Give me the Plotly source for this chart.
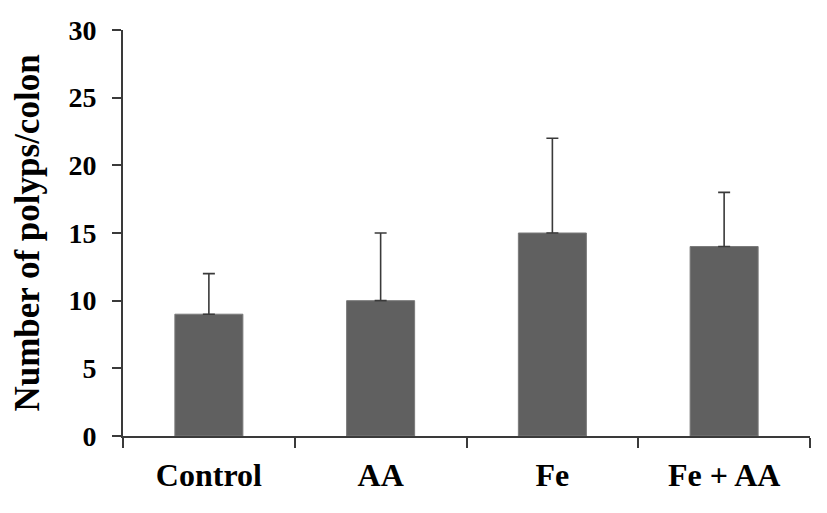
import plotly.graph_objects as go

categories = ["Control", "AA", "Fe", "Fe + AA"]
means = [9, 10, 15, 14]
errors_up = [3, 5, 7, 4]
y_ticks = [0, 5, 10, 15, 20, 25, 30]

fig = go.Figure()
fig.add_trace(go.Bar(
    x=categories, y=means,
    marker=dict(color="#606060", line=dict(color="#7a7a7a", width=1)),
    error_y=dict(type="data", symmetric=False, array=errors_up,
                 arrayminus=[0] * len(errors_up),
                 color="#3a3a3a", thickness=1.6, width=6),
))

font_family = "Liberation Serif"
# page has an 8px default body margin, so the figure is sized/offset to compensate
fig.update_layout(
    width=819, height=505,
    margin=dict(l=115, r=17, t=22, b=77),
    paper_bgcolor="white", plot_bgcolor="white",
    bargap=0.604, showlegend=False,
    font=dict(family=font_family, color="black"),
)
fig.update_xaxes(
    type="category", tickson="boundaries", automargin=False,
    showline=True, linecolor="#3a3a3a", linewidth=1.6,
    ticks="outside", ticklen=10, tickwidth=1.6, tickcolor="#3a3a3a",
    tickfont=dict(family=font_family, size=32, color="black", weight="bold"),
    ticklabelstandoff=10, showgrid=False, mirror=False,
)
fig.update_yaxes(
    range=[0, 30], tickvals=y_ticks, ticktext=[str(v) for v in y_ticks],
    automargin=False,
    showline=True, linecolor="#3a3a3a", linewidth=1.6,
    ticks="outside", ticklen=9, tickwidth=1.6, tickcolor="#3a3a3a",
    tickfont=dict(family=font_family, size=28, color="black", weight="bold"),
    ticklabelstandoff=10, showgrid=False, zeroline=False,
    title=dict(text="Number of polyps/colon",
               font=dict(family=font_family, size=35, color="black", weight="bold"),
               standoff=18),
)
fig.write_html("out.html")
